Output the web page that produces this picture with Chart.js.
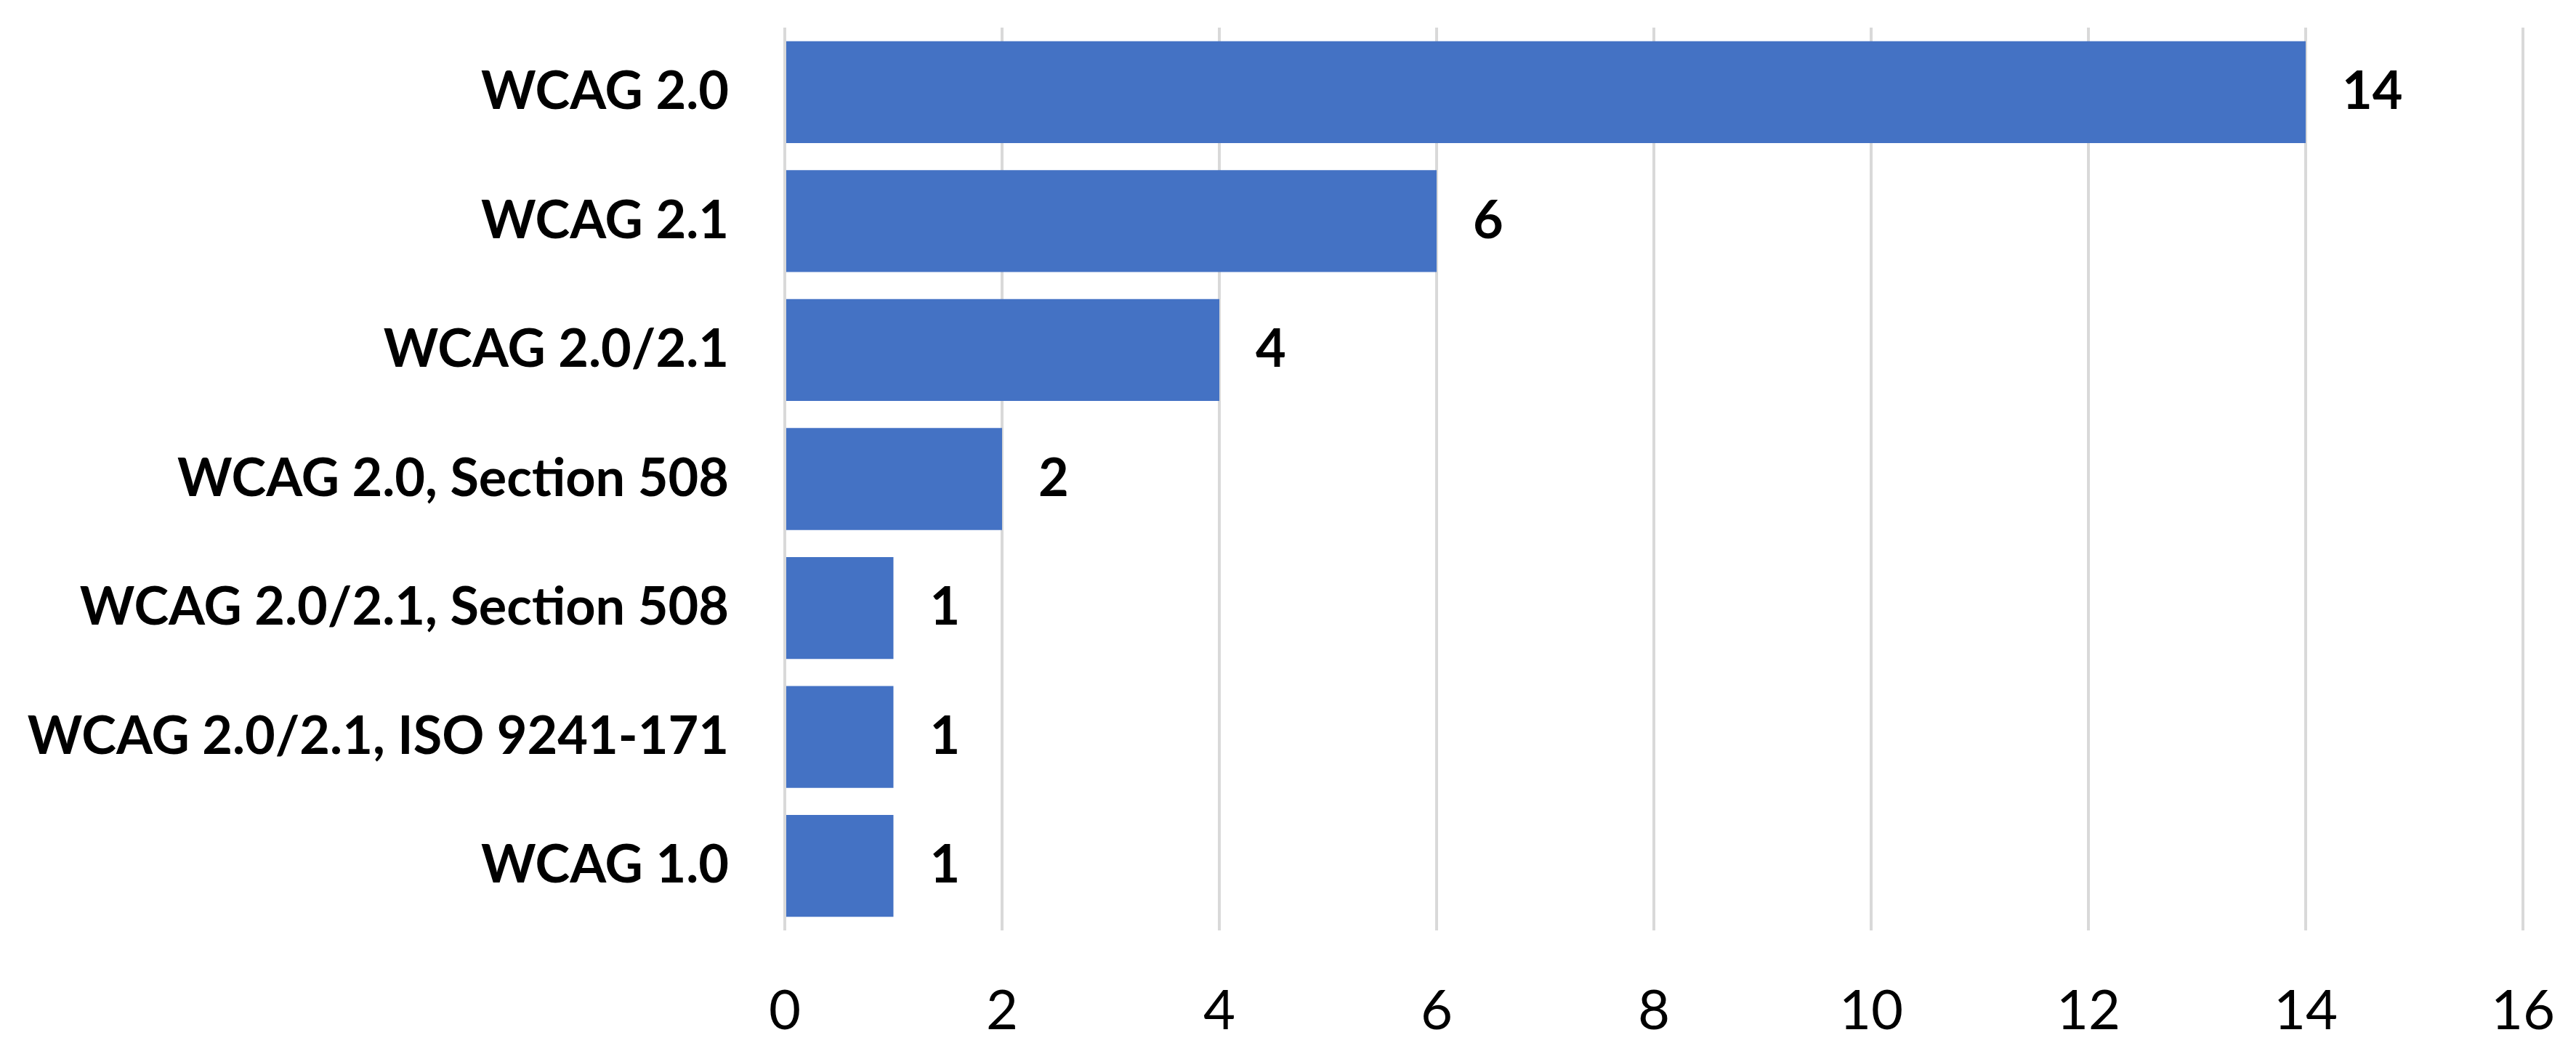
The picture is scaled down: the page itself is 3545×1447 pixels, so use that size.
<!DOCTYPE html>
<html>
<head>
<meta charset="utf-8">
<script src="https://cdn.jsdelivr.net/npm/chart.js@4/dist/chart.umd.min.js"></script>
<style>
  html, body { margin: 0; padding: 0; background: #fff; }
  #wrap { width: 3545px; height: 1447px; }
</style>
</head>
<body>
<div id="wrap"><canvas id="standardsChart" width="3545" height="1447"></canvas></div>
<script>
// categories top to bottom, as in the picture
const standards = [
  "WCAG 2.0",
  "WCAG 2.1",
  "WCAG 2.0/2.1",
  "WCAG 2.0, Section 508",
  "WCAG 2.0/2.1, Section 508",
  "WCAG 2.0/2.1, ISO 9241-171",
  "WCAG 1.0",
];
const counts = [14, 6, 4, 2, 1, 1, 1];
const axisMax = 16;
const axisStep = 2;

const fontFamily = "Lato, 'Liberation Sans', Arial, sans-serif";

// draws the number at the end of each bar
const valueLabels = {
  id: "valueLabels",
  afterDatasetsDraw(chart) {
    const ctx = chart.ctx;
    const meta = chart.getDatasetMeta(0);
    ctx.save();
    ctx.font = "bold 72px " + fontFamily;
    ctx.fillStyle = "#000";
    ctx.textAlign = "left";
    ctx.textBaseline = "middle";
    meta.data.forEach((bar, i) => {
      ctx.fillText(String(counts[i]), bar.x + 50, bar.y);
    });
    ctx.restore();
  },
};

const ctx = document.getElementById("standardsChart").getContext("2d");

new Chart(ctx, {
  type: "bar",
  data: {
    labels: standards,
    datasets: [
      {
        data: counts,
        backgroundColor: "#4472C4",
        borderWidth: 0,
        barPercentage: 0.79,
        categoryPercentage: 1,
      },
    ],
  },
  options: {
    indexAxis: "y",
    responsive: false,
    animation: false,
    layout: {
      padding: { top: 38, right: 73, left: 0, bottom: 0 },
    },
    plugins: {
      legend: { display: false },
      tooltip: { enabled: false },
    },
    scales: {
      x: {
        min: 0,
        max: axisMax,
        border: { display: false },
        grid: {
          color: "#D9D9D9",
          lineWidth: 4,
          drawTicks: false,
        },
        ticks: {
          stepSize: axisStep,
          color: "#000",
          padding: 66,
          font: { family: fontFamily, size: 76 },
        },
        // keep the label gap from pushing the plot area in
        afterFit: (scale) => {
          scale.height = 166;
          scale.paddingLeft = 0;
          scale.paddingRight = 0;
        },
      },
      y: {
        border: { display: false },
        grid: { display: false, drawTicks: false },
        ticks: {
          color: "#000",
          padding: 77,
          font: { family: fontFamily, size: 72, weight: "bold" },
        },
        afterFit: (scale) => {
          scale.width = 1080;
          scale.paddingTop = 0;
          scale.paddingBottom = 0;
        },
      },
    },
  },
  plugins: [valueLabels],
});
</script>
</body>
</html>
